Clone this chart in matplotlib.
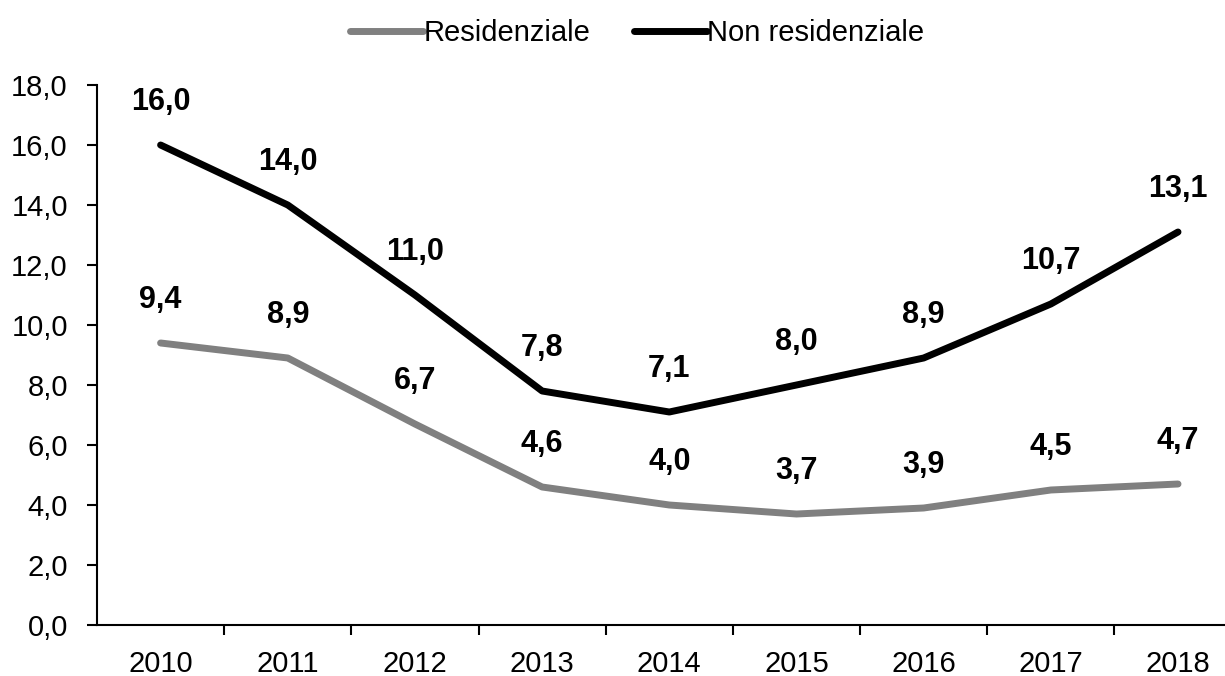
import matplotlib
matplotlib.use("Agg")
import matplotlib.pyplot as plt
import numpy as np

# data
years = ["2010", "2011", "2012", "2013", "2014", "2015", "2016", "2017", "2018"]
residenziale = [9.4, 8.9, 6.7, 4.6, 4.0, 3.7, 3.9, 4.5, 4.7]
non_residenziale = [16.0, 14.0, 11.0, 7.8, 7.1, 8.0, 8.9, 10.7, 13.1]
y_ticks = [0, 2, 4, 6, 8, 10, 12, 14, 16, 18]

plt.rcParams['font.family'] = ['Liberation Sans', 'DejaVu Sans']


def fmt(v):
    return f"{v:.1f}".replace(".", ",")


fig = plt.figure(figsize=(12.25, 6.76), dpi=100)
ax = fig.add_axes([97 / 1225, 51 / 676, (1241.6 - 97) / 1225, 540 / 676])

x = np.arange(len(years))
ax.plot(x, residenziale, color="#808080", lw=5, solid_capstyle="round", label="Residenziale")
ax.plot(x, non_residenziale, color="black", lw=5, solid_capstyle="round", label="Non residenziale")

# value labels above each point
for series in (residenziale, non_residenziale):
    for xi, v in zip(x, series):
        ax.annotate(fmt(v), (xi, v), xytext=(0, 31), textcoords="offset points",
                    ha="center", va="center", fontsize=22, fontweight="bold")

ax.set_xlim(-0.5, len(years) - 0.5)
ax.set_ylim(0, 18)
ax.set_yticks(y_ticks)
ax.set_yticklabels([fmt(v) for v in y_ticks], fontsize=21)

# category labels centred, tick marks on the boundaries
ax.set_xticks(x)
ax.set_xticklabels(years, fontsize=21)
ax.tick_params(axis="x", which="major", length=0, pad=18)
ax.set_xticks(np.arange(len(years)) + 0.5, minor=True)
ax.tick_params(axis="x", which="minor", length=7, width=1.5, direction="out")
ax.tick_params(axis="y", length=7, width=1.5, direction="out", pad=14)

for side in ["top", "right"]:
    ax.spines[side].set_visible(False)
for side in ["left", "bottom"]:
    ax.spines[side].set_linewidth(1.5)

fig.legend(loc="upper center", bbox_to_anchor=(0.52, 1.01), ncol=2, frameon=False,
           fontsize=21, handlelength=2.5, handletextpad=0.0, columnspacing=1.5)

fig.savefig("out.png", dpi=100)
